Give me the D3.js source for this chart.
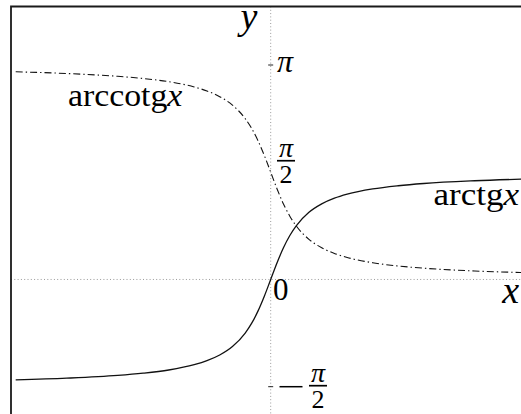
<!DOCTYPE html>
<html>
<head>
<meta charset="utf-8">
<script src="https://cdn.jsdelivr.net/npm/d3@7"></script>
<style>
  html, body { margin: 0; padding: 0; background: #fff; }
  svg { display: block; }
</style>
</head>
<body>
<svg id="chart" width="521" height="414"></svg>
<script>
// Sample points of the two inverse trigonometric curves
const xs = [-10, -8, -6, -5, -4, -3, -2.5, -2, -1.5, -1, -0.75, -0.5, -0.25, 0,
            0.25, 0.5, 0.75, 1, 1.5, 2, 2.5, 3, 4, 5, 6, 8, 10];
const arctgValues = [-1.471, -1.446, -1.406, -1.373, -1.326, -1.249, -1.190, -1.107, -0.983, -0.785, -0.644, -0.464, -0.245, 0,
                     0.245, 0.464, 0.644, 0.785, 0.983, 1.107, 1.190, 1.249, 1.326, 1.373, 1.406, 1.446, 1.471];
const arccotgValues = [3.042, 3.017, 2.976, 2.944, 2.897, 2.820, 2.761, 2.678, 2.554, 2.356, 2.214, 2.034, 1.816, 1.571,
                       1.326, 1.107, 0.927, 0.785, 0.588, 0.464, 0.381, 0.322, 0.245, 0.197, 0.165, 0.124, 0.100];
// y ticks: π, π/2, −π/2
const yTickValues = [3.1416, 1.5708, -1.5708];

const W = 521, H = 414;
const svg = d3.select("#chart");

const x = d3.scaleLinear().domain([-10, 10]).range([15.7, 525.7]);
const y = d3.scaleLinear().domain([-1.5708, 3.1416]).range([386.7, 65]);

const frameLeft = 11, frameTop = 6.5;

// dotted axes
svg.append("line")
  .attr("x1", frameLeft).attr("x2", W)
  .attr("y1", y(0)).attr("y2", y(0))
  .attr("stroke", "#9a9a9a").attr("stroke-width", 1)
  .attr("stroke-dasharray", "1,2.3");
svg.append("line")
  .attr("x1", x(0)).attr("x2", x(0))
  .attr("y1", frameTop).attr("y2", H)
  .attr("stroke", "#9a9a9a").attr("stroke-width", 1)
  .attr("stroke-dasharray", "1,2.3");

// short tick marks on the y axis
svg.selectAll("line.tick")
  .data([yTickValues[0], yTickValues[2]])
  .enter().append("line")
  .attr("class", "tick")
  .attr("x1", x(0) - 2.5).attr("x2", x(0) + 2.5)
  .attr("y1", d => y(d)).attr("y2", d => y(d))
  .attr("stroke", "#222").attr("stroke-width", 1);

// curves
const line = (vals) => d3.line()
  .x((d, i) => x(xs[i]))
  .y(d => y(d))
  .curve(d3.curveMonotoneX)(vals);

svg.append("path")
  .attr("d", line(arccotgValues))
  .attr("fill", "none").attr("stroke", "#111").attr("stroke-width", 1.1)
  .attr("stroke-dasharray", "7,3,1.4,3");

svg.append("path")
  .attr("d", line(arctgValues))
  .attr("fill", "none").attr("stroke", "#111").attr("stroke-width", 1.3);

// frame (left and top edges)
svg.append("path")
  .attr("d", `M${frameLeft},${H} V${frameTop} H${W}`)
  .attr("fill", "none").attr("stroke", "#1a1a1a").attr("stroke-width", 1.8);

// fraction bars and the minus sign of −π/2
const bars = [
  { x1: 277, x2: 295, y: y(yTickValues[1]) - 11.5, w: 1.7 },
  { x1: 309, x2: 327, y: y(yTickValues[2]) - 1, w: 1.7 },
  { x1: 279.5, x2: 302.5, y: y(yTickValues[2]), w: 1.5 }
];
svg.selectAll("line.bar").data(bars).enter().append("line")
  .attr("class", "bar")
  .attr("x1", d => d.x1).attr("x2", d => d.x2)
  .attr("y1", d => d.y).attr("y2", d => d.y)
  .attr("stroke", "#000").attr("stroke-width", d => d.w);

// all text labels
const labels = [
  { t: "y", x: 249, y: 29, s: 38, it: true, a: "middle" },
  { t: "x", x: 519, y: 303, s: 38, it: true, a: "end" },
  { t: "0", x: 273, y: 300, s: 31, it: false, a: "start" },
  { t: "π", x: 277, y: y(yTickValues[0]) + 7, s: 32, it: true, a: "start" },
  { t: "π", x: 286, y: y(yTickValues[1]) - 15.5, s: 28, it: true, a: "middle" },
  { t: "2", x: 286, y: y(yTickValues[1]) + 11, s: 26, it: false, a: "middle" },
  { t: "π", x: 318, y: y(yTickValues[2]) - 5, s: 28, it: true, a: "middle" },
  { t: "2", x: 318, y: y(yTickValues[2]) + 21.5, s: 26, it: false, a: "middle" }
];
svg.selectAll("text.lbl").data(labels).enter().append("text")
  .attr("class", "lbl")
  .attr("x", d => d.x).attr("y", d => d.y)
  .attr("font-family", d => "'Liberation Serif'")
  .attr("font-size", d => d.s)
  .attr("font-style", d => d.it ? "italic" : "normal")
  .attr("text-anchor", d => d.a)
  .text(d => d.t);

// function names: roman name + italic x, widened slightly
const fnLabels = [
  { name: "arccotg", x: 68, y: 106, a: "start", sx: 1.09 },
  { name: "arctg", x: 519, y: 205, a: "end", sx: 1.13 }
];
const fn = svg.selectAll("text.fn").data(fnLabels).enter().append("text")
  .attr("class", "fn")
  .attr("x", d => d.x).attr("y", d => d.y)
  .attr("font-family", d => "'Liberation Serif'")
  .attr("font-size", 31)
  .attr("text-anchor", d => d.a)
  .attr("transform", d => `translate(${d.x},0) scale(${d.sx},1) translate(${-d.x},0)`);
fn.append("tspan").text(d => d.name);
fn.append("tspan").attr("font-style", "italic").text("x");
</script>
</body>
</html>
